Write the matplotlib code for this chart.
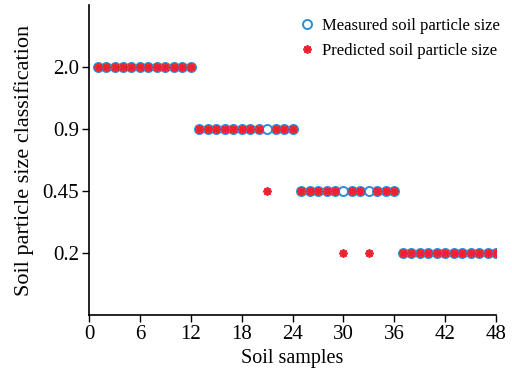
import numpy as np
import matplotlib.pyplot as plt

plt.rcParams['font.family'] = ['Liberation Serif', 'DejaVu Serif']

# classes shown on the y axis (bottom to top)
classes = ['0.2', '0.45', '0.9', '2.0']
samples = np.arange(1, 49)

measured = ['2.0'] * 12 + ['0.9'] * 12 + ['0.45'] * 12 + ['0.2'] * 12
predicted = (['2.0'] * 12
             + ['0.9'] * 8 + ['0.45'] + ['0.9'] * 3
             + ['0.45'] * 5 + ['0.2'] + ['0.45'] * 2 + ['0.2'] + ['0.45'] * 3
             + ['0.2'] * 12)

ypos = {c: i + 1 for i, c in enumerate(classes)}
y_meas = [ypos[v] for v in measured]
y_pred = [ypos[v] for v in predicted]

fig = plt.figure(figsize=(5.12, 3.72), dpi=100)
ax = fig.add_axes([0.174, 0.153, 0.795, 0.834])

ax.plot(samples, y_meas, linestyle='none', marker='o', markersize=6.5,
        markerfacecolor='white', markeredgecolor='#2c8fd6', markeredgewidth=1.4,
        label='Measured soil particle size')
ax.plot(samples, y_pred, linestyle='none', marker=(8, 2, 0), markersize=6,
        color='#f0202e', markeredgewidth=1.3,
        label='Predicted soil particle size')

ax.set_xlim(0, 48)
ax.set_ylim(0, 5)
ax.set_xticks(range(0, 49, 6))
ax.set_yticks([ypos[c] for c in classes])
ax.set_yticklabels(classes)
ax.tick_params(labelsize=15, direction='out', length=5, width=1, pad=2)
ax.spines['top'].set_visible(False)
ax.spines['right'].set_visible(False)
ax.spines['left'].set_linewidth(1.2)
ax.spines['bottom'].set_linewidth(1.2)

ax.set_xlabel('Soil samples', fontsize=14.5, labelpad=4)
ax.set_ylabel('Soil particle size classification', fontsize=16, labelpad=6)

ax.legend(loc='upper left', bbox_to_anchor=(0.515, 0.958), frameon=False,
          fontsize=12, handlelength=1, handletextpad=0.4, borderpad=0,
          borderaxespad=0, labelspacing=0.55)

fig.savefig('out.png', dpi=100)
